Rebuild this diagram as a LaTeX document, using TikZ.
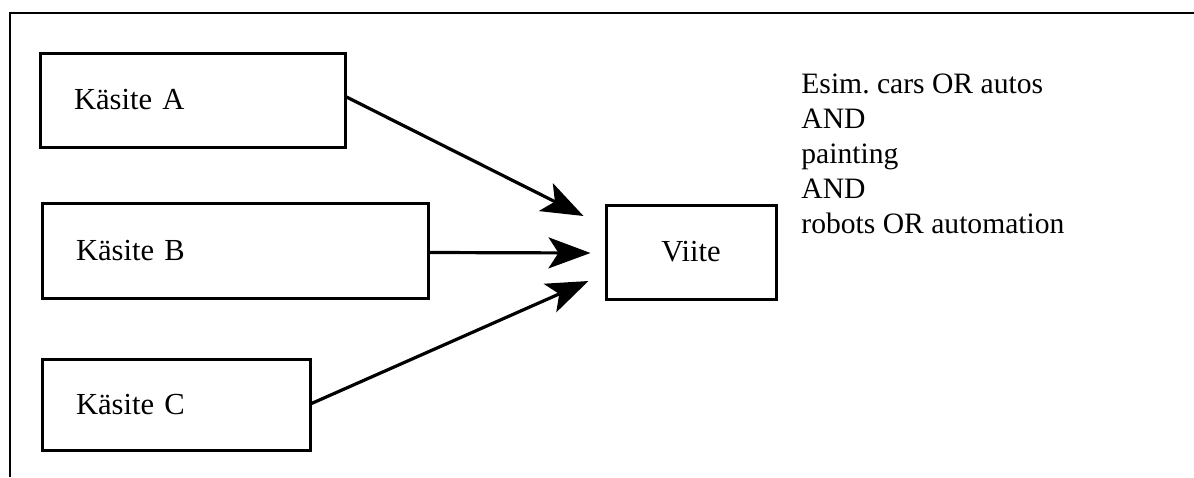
\documentclass[tikz,border=0pt]{standalone}
\usepackage{fontspec}
\setmainfont{Liberation Serif}
\usetikzlibrary{arrows.meta}
\frenchspacing
\tikzset{
  concept/.style={draw, line width=1.5pt, align=left, inner xsep=17pt,
    font=\fontsize{15.3pt}{18pt}\selectfont},
  refbox/.style={draw, line width=1.5pt, align=center,
    font=\fontsize{15.3pt}{18pt}\selectfont},
  link/.style={line width=1.6pt,
    -{Stealth[length=21pt, width=15.5pt, inset=5pt]}},
  frameline/.style={line width=1pt},
  note/.style={align=left, inner sep=0pt,
    font=\fontsize{14.8pt}{17.5pt}\selectfont}
}
\begin{document}
\begin{tikzpicture}[x=0.5pt, y=-0.5pt]
  \useasboundingbox (0,0) rectangle (1194,477);

  % open frame: top and left edges only
  \draw[frameline] (10,477) -- (10,13) -- (1194,13);

  % concept boxes
  \node[concept, text width=118.5pt, minimum height=47pt] (A) at (192.5,100) {Käsite A};
  \node[concept, text width=159pt,   minimum height=47.5pt] (B) at (235,250.5) {Käsite B};
  \node[concept, text width=100pt,   minimum height=45.5pt] (C) at (176,404.5) {Käsite C};

  % reference box
  \node[refbox, minimum width=85pt, minimum height=47pt] (V) at (691,252) {Viite};

  % connectors
  \draw[link] ([yshift=1.5pt]A.east) -- ([xshift=-10.5pt, yshift=18pt]V.west);
  \draw[link] ([yshift=-1pt]B.east) -- ([xshift=-7pt, yshift=-0.5pt]V.west);
  \draw[link] ([yshift=0.5pt]C.east) -- ([xshift=-8pt, yshift=-14.5pt]V.west);

  % example query (anchored at the baseline of its last line)
  \node[note, anchor=base west] (Q) at (801,233)
    {Esim. cars OR autos\\AND\\painting\\AND\\robots OR automation};
\end{tikzpicture}
\end{document}
